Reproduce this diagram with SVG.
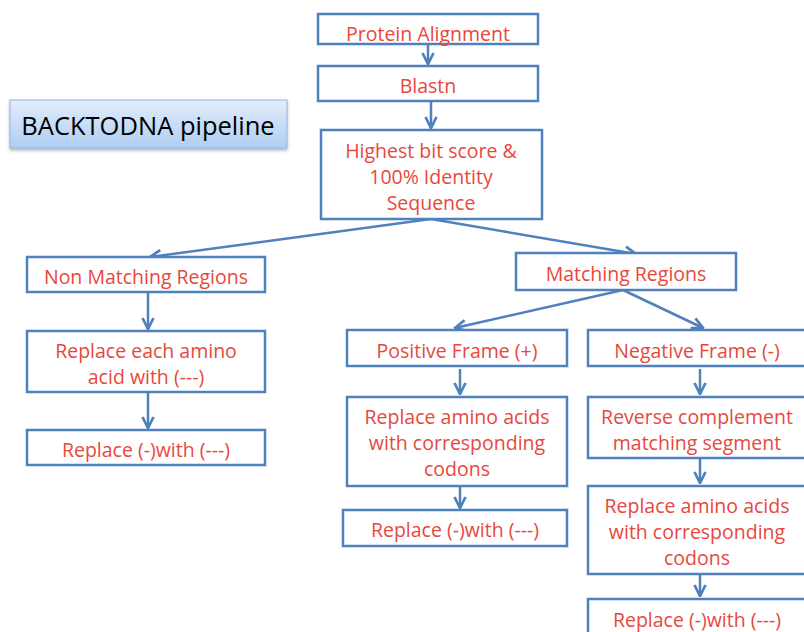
<svg xmlns="http://www.w3.org/2000/svg" width="804" height="632" viewBox="0 0 804 632">
<style>
.box{fill:#fff;stroke:#4F81BD;stroke-width:2.5}
.t{font-family:"Open Sans","Liberation Sans",sans-serif;font-size:19.5px;fill:#E8473D;text-anchor:middle;dominant-baseline:central}
.c{fill:none;stroke:#4F81BD;stroke-width:2.5}
</style>
<defs>
<marker id="ah" viewBox="0 0 10 10" refX="9" refY="5" markerWidth="5.5" markerHeight="5.5" orient="auto" markerUnits="strokeWidth">
<path d="M1,1 L9,5 L1,9" fill="none" stroke="#4F81BD" stroke-width="2"/>
</marker>
<linearGradient id="g" x1="0" y1="0" x2="0" y2="1">
<stop offset="0" stop-color="#E3EEFB"/>
<stop offset="1" stop-color="#AFCDF3"/>
</linearGradient>
<filter id="sh" x="-5%" y="-10%" width="110%" height="130%">
<feDropShadow dx="0" dy="2" stdDeviation="1.5" flood-color="#000" flood-opacity="0.3"/>
</filter>
</defs>
<rect width="804" height="632" fill="#fff"/>
<g id="title">
<rect x="10" y="100" width="277" height="48" fill="url(#g)" stroke="#8DB3E2" stroke-width="1" filter="url(#sh)"/>
<text x="148" y="125" style="font-family:'Open Sans','Liberation Sans',sans-serif;font-size:25.5px;fill:#000;text-anchor:middle;dominant-baseline:central">BACKTODNA pipeline</text>
</g>
<g id="connectors">
<path class="c" d="M428,44 V64" marker-end="url(#ah)"/>
<path class="c" d="M431,101 V128" marker-end="url(#ah)"/>
<path class="c" d="M431,219 L150,257" marker-end="url(#ah)"/>
<path class="c" d="M431,219 L636,254" marker-end="url(#ah)"/>
<path class="c" d="M148,292 V329" marker-end="url(#ah)"/>
<path class="c" d="M148,392 V428" marker-end="url(#ah)"/>
<path class="c" d="M623,290 L455,328" marker-end="url(#ah)"/>
<path class="c" d="M623,290 L703,328" marker-end="url(#ah)"/>
<path class="c" d="M460,369 V394" marker-end="url(#ah)"/>
<path class="c" d="M460,487 V508" marker-end="url(#ah)"/>
<path class="c" d="M700,369 V394" marker-end="url(#ah)"/>
<path class="c" d="M700,459 V483" marker-end="url(#ah)"/>
<path class="c" d="M700,575 V596" marker-end="url(#ah)"/>
</g>
<g id="n1"><rect class="box" x="318" y="14" width="220" height="30"/><text class="t" x="428" y="33">Protein Alignment</text></g>
<g id="n2"><rect class="box" x="318" y="66" width="220" height="35"/><text class="t" x="428" y="85">Blastn</text></g>
<g id="n3"><rect class="box" x="321" y="130" width="221" height="89"/>
<text class="t" x="431" y="150">Highest bit score  &amp;</text>
<text class="t" x="431" y="176">100% Identity</text>
<text class="t" x="431" y="202">Sequence</text></g>
<g id="n4"><rect class="box" x="27" y="257" width="238" height="35"/><text class="t" x="146" y="276">Non Matching Regions</text></g>
<g id="n5"><rect class="box" x="27" y="331" width="238" height="61"/>
<text class="t" x="146" y="350">Replace each amino</text>
<text class="t" x="146" y="376">acid with (---)</text></g>
<g id="n6"><rect class="box" x="27" y="430" width="238" height="35"/><text class="t" x="146" y="449">Replace (-)with (---)</text></g>
<g id="n7"><rect class="box" x="516" y="253" width="220" height="37"/><text class="t" x="626" y="273">Matching Regions</text></g>
<g id="n8"><rect class="box" x="347" y="330" width="220" height="36"/><text class="t" x="457" y="350">Positive Frame (+)</text></g>
<g id="n9"><rect class="box" x="588" y="330" width="218" height="36"/><text class="t" x="697" y="350">Negative Frame (-)</text></g>
<g id="n10"><rect class="box" x="347" y="397" width="220" height="89"/>
<text class="t" x="457" y="416">Replace amino acids</text>
<text class="t" x="457" y="442">with corresponding</text>
<text class="t" x="457" y="468">codons</text></g>
<g id="n11"><rect class="box" x="343" y="510" width="224" height="36"/><text class="t" x="455" y="529">Replace (-)with (---)</text></g>
<g id="n12"><rect class="box" x="588" y="397" width="218" height="61"/>
<text class="t" x="697" y="416">Reverse complement</text>
<text class="t" x="697" y="442">matching segment</text></g>
<g id="n13"><rect class="box" x="588" y="486" width="218" height="88"/>
<text class="t" x="697" y="505">Replace amino acids</text>
<text class="t" x="697" y="531">with corresponding</text>
<text class="t" x="697" y="557">codons</text></g>
<g id="n14"><rect class="box" x="588" y="599" width="218" height="40"/><text class="t" x="697" y="619">Replace (-)with (---)</text></g>
</svg>
